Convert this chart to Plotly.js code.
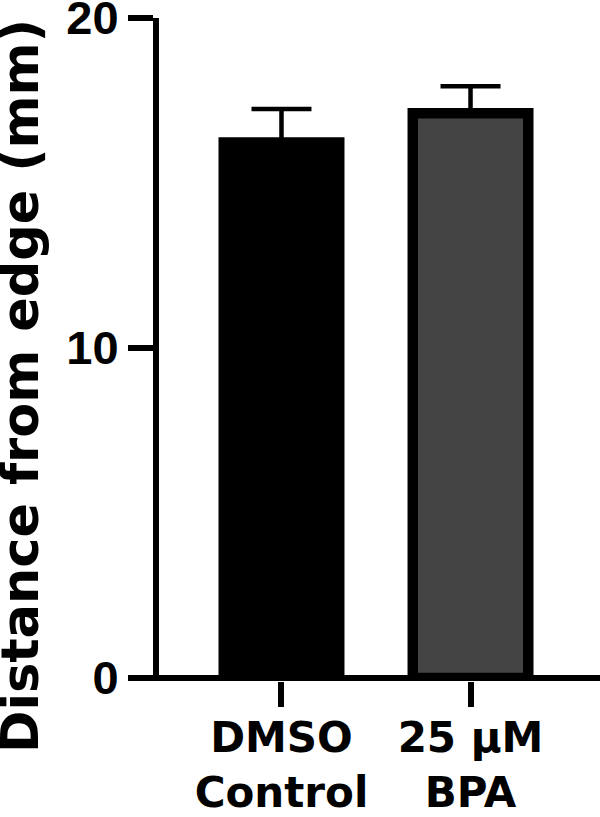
<!DOCTYPE html>
<html>
<head>
<meta charset="utf-8">
<script src="https://cdn.plot.ly/plotly-3.0.1.min.js"></script>
<style>html,body{margin:0;padding:0;background:#fff;}#chart{width:600px;height:817px;}</style>
</head>
<body>
<div id="chart"></div>
<script>
const categories = ["DMSO<br>Control", "25 μM<br>BPA"];
const means = [16.23, 17.11];
const sem = [1.01, 0.82];
const barColors = ["#000000", "#444444"];
const yTickVals = [0, 10, 20];
const yTickText = ["0", "10", "20"];
const yTitle = "Distance from edge (mm)";

const trace = {
  type: "bar",
  x: [0, 1],
  y: means,
  width: 0.611,
  marker: { color: barColors, line: { color: "#000", width: 10.5 } },
  error_y: { type: "data", array: sem, visible: true, symmetric: false, arrayminus: [0, 0], color: "#000", thickness: 4.5, width: 30 },
  hoverinfo: "none"
};

const layout = {
  width: 600, height: 817,
  margin: { l: 159, r: 0, t: 18, b: 136 },
  paper_bgcolor: "#fff", plot_bgcolor: "#fff",
  showlegend: false,
  xaxis: {
    range: [-0.648, 1.685],
    tickvals: [0, 1], ticktext: categories,
    ticks: "outside", ticklen: 25, tickwidth: 6, tickcolor: "#000",
    ticklabelstandoff: -5,
    showline: false, showgrid: false, zeroline: false,
    tickfont: { family: "DejaVu Sans", size: 42, color: "#000", weight: "bold" },
    ticklabeloverflow: "allow",
    fixedrange: true
  },
  yaxis: {
    range: [-0.091, 20],
    tickvals: yTickVals, ticktext: yTickText,
    ticks: "outside", ticklen: 25, tickwidth: 6, tickcolor: "#000",
    showline: true, linewidth: 6, linecolor: "#000",
    showgrid: false, zeroline: true, zerolinewidth: 6, zerolinecolor: "#000",
    tickfont: { family: "Liberation Sans", size: 47, color: "#000", weight: "bold" },
    ticklabeloverflow: "allow",
    fixedrange: true
  },
  annotations: [{
    text: yTitle, textangle: -90, showarrow: false,
    xref: "paper", yref: "paper", x: -0.313, y: 0.445, xanchor: "center", yanchor: "middle",
    font: { family: "DejaVu Sans", size: 51, color: "#000", weight: "bold" }
  }]
};

Plotly.newPlot("chart", [trace], layout, { staticPlot: true });
</script>
</body>
</html>
